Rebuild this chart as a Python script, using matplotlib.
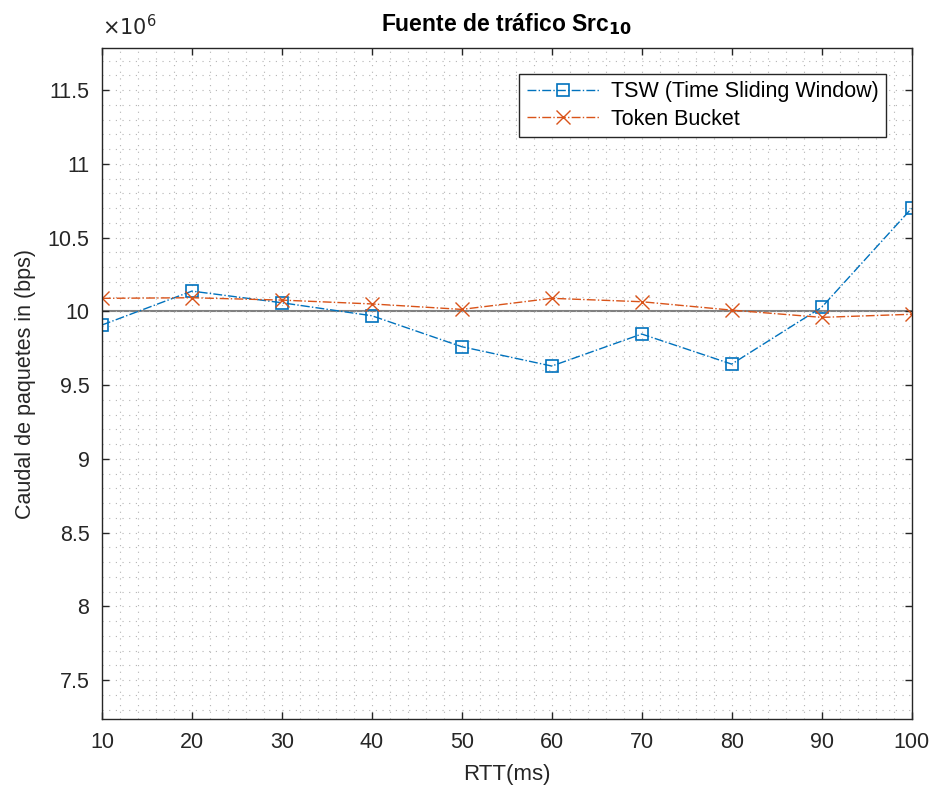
import matplotlib
matplotlib.use("Agg")
import matplotlib.pyplot as plt
from matplotlib.ticker import MultipleLocator, FuncFormatter

plt.rcParams['font.family'] = ['Liberation Sans', 'DejaVu Sans']

rtt = [10, 20, 30, 40, 50, 60, 70, 80, 90, 100]
tsw = [9.907e6, 10.137e6, 10.058e6, 9.970e6, 9.760e6, 9.629e6, 9.846e6, 9.642e6, 10.027e6, 10.698e6]
token_bucket = [10.088e6, 10.092e6, 10.076e6, 10.050e6, 10.013e6, 10.088e6, 10.065e6, 10.008e6, 9.959e6, 9.980e6]
target = 10.0e6
y_ticks = [7.5e6, 8.0e6, 8.5e6, 9.0e6, 9.5e6, 10.0e6, 10.5e6, 11.0e6, 11.5e6]

fig = plt.figure(figsize=(9.35, 7.98), dpi=100)
ax = fig.add_axes([0.109, 0.0986, 0.866, 0.8416])

blue = '#0072BD'
orange = '#D95319'

ax.plot(rtt, tsw, linestyle='-.', color=blue, marker='s', markersize=8,
        markerfacecolor='none', markeredgewidth=1.2, linewidth=1.0,
        label='TSW (Time Sliding Window)')
ax.plot(rtt, token_bucket, linestyle='-.', color=orange, marker='x', markersize=10,
        markeredgewidth=1.0, linewidth=1.0, label='Token Bucket')
ax.axhline(target, color='#808080', linewidth=1.5, zorder=1.5)

ax.set_xlim(10, 100)
ax.set_ylim(7.234e6, 11.787e6)
ax.set_xticks(rtt)
ax.set_yticks(y_ticks)
ax.xaxis.set_minor_locator(MultipleLocator(2))
ax.yaxis.set_minor_locator(MultipleLocator(0.1e6))
ax.yaxis.set_major_formatter(FuncFormatter(lambda v, p: ('%g' % (v / 1e6))))

ax.grid(True, which='both', linestyle=(0, (1, 5)), color='#b4b4b4', linewidth=0.8)
ax.tick_params(which='major', direction='in', length=5, width=1, top=True, right=True,
               labelsize=15.5, colors='#262626', pad=9)
ax.tick_params(which='minor', length=0, top=True, right=True)
for s in ax.spines.values():
    s.set_color('#262626')
    s.set_linewidth(1.0)

ax.text(0.0, 1.012, r'$\times10^{6}$', transform=ax.transAxes, fontsize=15,
        color='#262626', ha='left', va='bottom')

ax.set_xlabel('RTT(ms)', fontsize=16, color='#262626', labelpad=8)
ax.set_ylabel('Caudal de paquetes in (bps)', fontsize=15.5, color='#262626', labelpad=8)
ax.set_title(r'Fuente de tráfico Src$_{\mathbf{10}}$', fontsize=16.5, fontweight='bold',
             color='black', pad=12)

leg = ax.legend(loc='upper right', fontsize=15.5, fancybox=False, framealpha=1,
                edgecolor='#262626', handlelength=3.4, borderaxespad=1.2,
                labelspacing=0.3, borderpad=0.35, handletextpad=0.5)
leg.get_frame().set_linewidth(1.0)

fig.savefig('out.png', dpi=100)
